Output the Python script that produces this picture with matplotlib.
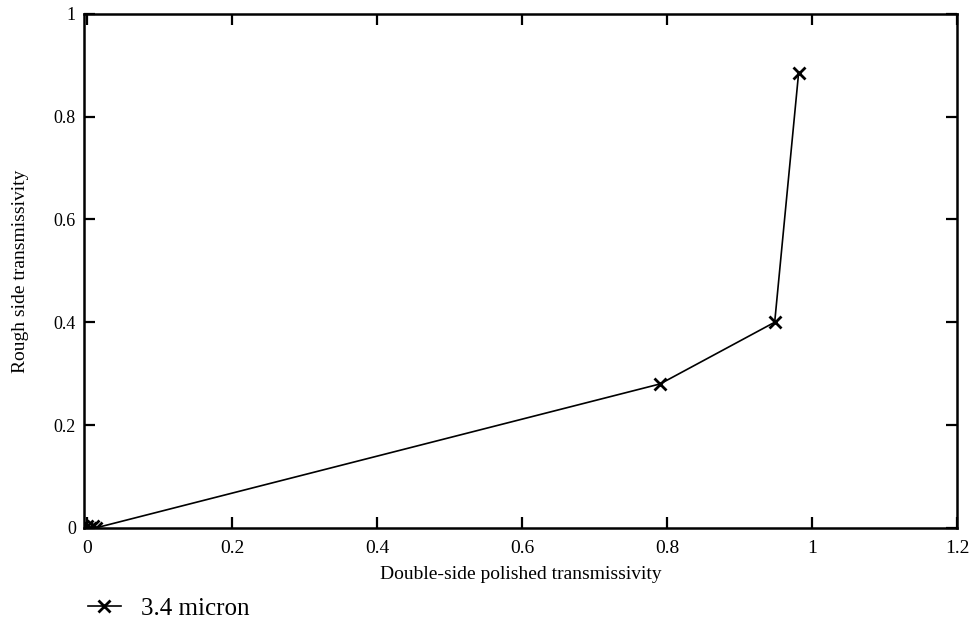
import numpy as np
import matplotlib.pyplot as plt

# data
pol_trans = [0.0, 0.004, 0.008, 0.012, 0.79, 0.948, 0.981]
rough_trans = [0.004, 0.0, 0.004, 0.0, 0.28, 0.40, 0.885]
series_name = '3.4 micron'

x_ticks = [0, 0.2, 0.4, 0.6, 0.8, 1.0, 1.2]
x_labels = ['0', '0.2', '0.4', '0.6', '0.8', '1', '1.2']
y_ticks = [0, 0.2, 0.4, 0.6, 0.8, 1.0]
y_labels = ['0', '0.2', '0.4', '0.6', '0.8', '1']

plt.rcParams['font.family'] = ['Liberation Serif', 'DejaVu Serif']

f = plt.figure(figsize=(9.79, 6.24), dpi=100)
p = f.add_axes([0.086, 0.154, 0.892, 0.824])

p.plot(pol_trans, rough_trans, color='black', linewidth=1.2,
       marker='x', markersize=9, markeredgewidth=2, label=series_name)

p.set_xlim([-0.004, 1.2])
p.set_ylim([0, 1])
p.set_xticks(x_ticks)
p.set_xticklabels(x_labels, fontsize=14)
p.set_yticks(y_ticks)
p.set_yticklabels(y_labels, fontsize=13)
p.tick_params(direction='in', length=8, width=1.6, top=True, right=True)
p.tick_params(axis='x', pad=9)
p.tick_params(axis='y', pad=6)
for s in p.spines.values():
    s.set_linewidth(1.8)

p.set_xlabel('Double-side polished transmissivity', fontsize=14, labelpad=6)
p.set_ylabel('Rough side transmissivity', fontsize=14, labelpad=18)

f.legend(loc='lower left', bbox_to_anchor=(0.067, -0.03), frameon=False,
         fontsize=18, handlelength=1.3, handletextpad=0.8)

plt.savefig('out.png', dpi=100)
